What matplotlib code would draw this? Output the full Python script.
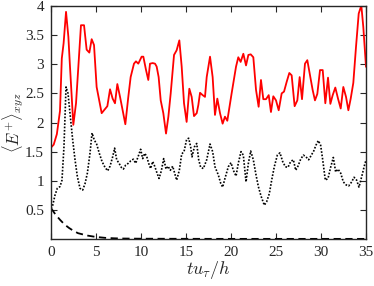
import matplotlib
matplotlib.use("Agg")
import matplotlib.pyplot as plt

plt.rcParams['font.family'] = ['Liberation Serif', 'DejaVu Serif']
plt.rcParams['mathtext.fontset'] = 'cm'

# Red solid series
red_t = [0.0, 0.3, 0.65, 1.0, 1.2, 1.4, 1.67, 1.93, 2.11, 2.48,
         2.78, 3.04, 3.33, 3.67, 3.96, 4.26, 4.52, 4.78, 5.07, 5.63,
         5.89, 6.26, 6.56, 6.85, 7.11, 7.37, 7.67, 7.96, 8.26, 8.59,
         8.85, 9.22, 9.44, 9.70, 10.07, 10.26, 10.56, 10.81, 11.0, 11.30,
         11.56, 11.74, 11.96, 12.19, 12.48, 12.78, 13.04, 13.30, 13.67, 13.96,
         14.26, 14.52, 14.78, 15.07, 15.37, 15.63, 15.89, 16.19, 16.37, 16.56,
         16.85, 17.11, 17.30, 17.67, 17.96, 18.22, 18.48, 18.78, 19.07, 19.33,
         19.59, 20.07, 20.56, 20.81, 21.07, 21.37, 21.67, 21.93, 22.19, 22.48,
         22.78, 23.07, 23.33, 23.59, 23.89, 24.19, 24.44, 24.70, 25.0, 25.30,
         25.63, 25.89, 26.19, 26.48, 26.74, 27.07, 27.37, 27.63, 27.89, 28.22,
         28.48, 28.78, 29.07, 29.33, 29.59, 29.89, 30.19, 30.48, 30.78, 31.04,
         31.30, 31.59, 31.89, 32.19, 32.48, 32.78, 33.04, 33.30, 33.59, 33.89,
         34.19, 34.48, 34.70, 35.0]
red_y = [1.57, 1.62, 1.80, 2.20, 3.10, 3.36, 3.90, 3.47, 2.96, 1.96,
         2.33, 2.96, 3.67, 3.67, 3.25, 3.20, 3.43, 3.33, 2.61, 2.16,
         2.21, 2.28, 2.57, 2.41, 2.33, 2.66, 2.44, 2.21, 1.97, 2.44,
         2.78, 3.01, 3.05, 3.01, 3.13, 3.13, 2.90, 2.73, 3.01, 3.02,
         3.01, 2.96, 2.78, 2.38, 2.16, 1.81, 2.10, 2.50, 3.16, 3.24,
         3.41, 2.96, 2.33, 2.01, 2.58, 2.44, 2.11, 2.16, 2.30, 2.51,
         2.47, 2.44, 2.78, 3.13, 2.78, 2.13, 2.41, 2.16, 1.98, 2.10,
         2.03, 2.50, 2.96, 3.12, 3.04, 3.18, 2.98, 3.16, 3.17, 3.12,
         2.56, 2.27, 2.73, 2.40, 2.40, 2.47, 2.18, 2.45, 2.38, 2.21,
         2.50, 2.53, 2.70, 2.85, 2.81, 2.28, 2.38, 2.78, 2.40, 3.01,
         3.07, 2.81, 2.56, 2.38, 2.49, 2.90, 2.90, 2.33, 2.77, 2.32,
         2.47, 2.60, 2.41, 2.24, 2.61, 2.44, 2.21, 2.41, 2.68, 3.30,
         3.87, 4.01, 3.64, 2.96]

# Black dotted series
dot_t = [0.0, 0.19, 0.44, 0.70, 1.0, 1.22, 1.44, 1.67, 1.89, 2.11,
         2.41, 2.67, 2.93, 3.22, 3.52, 3.78, 4.04, 4.33, 4.56, 4.81,
         5.07, 5.37, 5.67, 6.0, 6.30, 6.56, 6.85, 7.07, 7.30, 7.56,
         7.81, 8.04, 8.30, 8.59, 8.85, 9.15, 9.41, 9.67, 9.96, 10.19,
         10.41, 10.63, 10.85, 11.07, 11.30, 11.52, 11.74, 12.0, 12.26, 12.52,
         12.78, 13.0, 13.26, 13.52, 13.74, 13.96, 14.26, 14.52, 14.78, 15.07,
         15.30, 15.52, 15.67, 15.93, 16.19, 16.41, 16.63, 16.93, 17.30, 17.67,
         17.96, 18.22, 18.59, 18.85, 19.07, 19.33, 19.70, 20.0, 20.26, 20.56,
         20.81, 21.11, 21.37, 21.67, 21.93, 22.19, 22.48, 22.78, 23.04, 23.33,
         23.70, 23.96, 24.26, 24.52, 24.81, 25.15, 25.44, 25.74, 26.04, 26.33,
         26.63, 26.93, 27.19, 27.44, 27.74, 28.04, 28.33, 28.63, 28.93, 29.19,
         29.44, 29.70, 29.96, 30.19, 30.48, 30.78, 31.07, 31.37, 31.63, 31.89,
         32.19, 32.48, 32.78, 33.07, 33.41, 33.67, 33.96, 34.22, 34.52, 34.89,
         35.0]
dot_y = [0.52, 0.58, 0.75, 0.87, 0.90, 1.01, 1.58, 2.61, 2.50, 2.16,
         1.70, 1.36, 1.07, 0.87, 0.84, 0.95, 1.13, 1.47, 1.82, 1.70,
         1.63, 1.47, 1.33, 1.23, 1.17, 1.25, 1.41, 1.56, 1.36, 1.30,
         1.23, 1.20, 1.27, 1.30, 1.34, 1.37, 1.30, 1.41, 1.54, 1.38,
         1.47, 1.42, 1.30, 1.21, 1.33, 1.25, 1.15, 1.04, 1.17, 1.38,
         1.20, 1.25, 1.18, 1.25, 1.13, 1.01, 1.18, 1.46, 1.50, 1.71,
         1.73, 1.58, 1.41, 1.58, 1.64, 1.36, 1.23, 1.21, 1.36, 1.63,
         1.50, 1.24, 1.10, 0.96, 0.89, 1.04, 1.24, 1.31, 1.18, 1.08,
         1.30, 1.50, 1.44, 0.98, 1.30, 1.51, 1.36, 1.10, 0.90, 0.74,
         0.58, 0.64, 0.78, 1.01, 1.24, 1.44, 1.48, 1.33, 1.24, 1.23,
         1.33, 1.36, 1.18, 1.25, 1.37, 1.44, 1.41, 1.36, 1.44, 1.51,
         1.61, 1.69, 1.61, 1.36, 1.01, 1.04, 1.23, 1.40, 1.15, 1.20,
         1.13, 0.98, 0.93, 0.91, 0.98, 1.06, 1.01, 0.89, 1.07, 1.30,
         1.35]

# Black dashed series
dash_t = [0, 0.5, 1.0, 1.5, 2.0, 2.5, 3.0, 3.5, 4.0, 5.0, 6.0, 7.0, 8.0,
          10, 15, 20, 25, 30, 35]
dash_y = [0.53, 0.42, 0.33, 0.25, 0.19, 0.14, 0.10, 0.08, 0.06, 0.035,
          0.02, 0.012, 0.008, 0.005, 0.003, 0.002, 0.002, 0.002, 0.002]

x_ticks = [0, 5, 10, 15, 20, 25, 30, 35]
y_ticks = [0.5, 1, 1.5, 2, 2.5, 3, 3.5, 4]
y_ticklabels = ['0.5', '1', '1.5', '2', '2.5', '3', '3.5', '4']

fig = plt.figure(figsize=(3.74, 2.86), dpi=100)
ax = fig.add_axes([51/374, 47/286, 315/374, 233/286])

ax.plot(dash_t, dash_y, color='black', lw=1.3, linestyle=(0, (4, 2.5)))
ax.plot(dot_t, dot_y, color='black', lw=1.2, linestyle=(0, (1, 1)))
ax.plot(red_t, red_y, color='#ff0000', lw=1.3)

ax.set_xlim(0, 35)
ax.set_ylim(0, 4)
ax.set_xticks(x_ticks)
ax.set_xticklabels([str(v) for v in x_ticks])
ax.set_yticks(y_ticks)
ax.set_yticklabels(y_ticklabels)

edge = '#262626'
for s in ax.spines.values():
    s.set_color(edge)
    s.set_linewidth(1.0)
ax.tick_params(direction='in', length=4, width=0.8, colors=edge,
               top=True, right=True, labelsize=11, labelcolor='#262626', pad=5)

ax.set_xlabel(r'$tu_\tau/h$', fontsize=13, color='#262626', labelpad=0)
ax.set_ylabel(r'$\langle E^{+}\rangle_{xyz}$', fontsize=12, color='#262626')
ax.yaxis.set_label_coords(-0.08, 0.5)

fig.savefig('out.png', dpi=100)
